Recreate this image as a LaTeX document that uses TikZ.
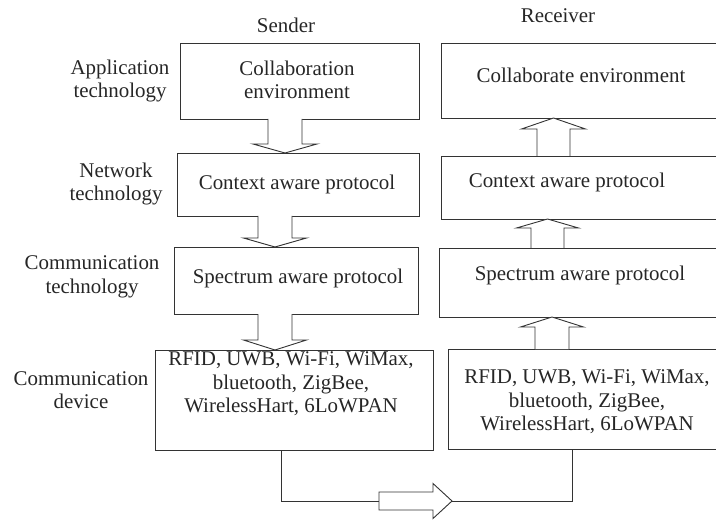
\documentclass[tikz,border=0pt]{standalone}
\usepackage{fontspec}
\setmainfont{Liberation Serif}
\usetikzlibrary{calc}

% hollow block arrow: from, to, centre (x), shaft half width, head half width, signed head length
\newcommand\blockarrow[6]{%
  \draw[blk] ($(#1 -| #3)+(-#4,0)$) -- ($(#2 -| #3)+(-#4,#6)$) -- ($(#2 -| #3)+(-#5,#6)$)
    -- (#2 -| #3) -- ($(#2 -| #3)+(#5,#6)$) -- ($(#2 -| #3)+(#4,#6)$) -- ($(#1 -| #3)+(#4,0)$);}

\begin{document}
\begin{tikzpicture}[x=1bp,y=-1bp,
  box/.style={draw=black!80, line width=0.9bp, inner sep=0pt, outer sep=0pt},
  txt/.style={text=black!85, align=center, inner sep=0pt, font=\fontsize{21}{23.5}\selectfont},
  blk/.style={draw=black!80, line width=0.9bp, fill=white, line join=miter},
  wire/.style={draw=black!80, line width=0.9bp}]
\useasboundingbox (0,0) rectangle (716,521);

% column headings
\node[txt] (hs) at (286,25) {Sender};
\node[txt] (hr) at (558,16) {Receiver};

% layer labels
\node[txt] (la) at (120,81) {Application\\technology};
\node[txt] (ln) at (116,184) {Network\\technology};
\node[txt] (lc) at (92,277) {Communication\\technology};
\node[txt] (ld) at (81,390) {Communication\\device};

% sender stack
\node[box, minimum width=239bp, minimum height=76bp] (s1) at (299.5,81) {};
\node[box, minimum width=242bp, minimum height=63bp] (s2) at (298,184.5) {};
\node[box, minimum width=244bp, minimum height=67bp] (s3) at (296,280.5) {};
\node[box, minimum width=278bp, minimum height=100bp] (s4) at (294,400) {};

% receiver stack
\node[box, minimum width=279bp, minimum height=75bp] (r1) at (580.5,80.5) {};
\node[box, minimum width=279bp, minimum height=63bp] (r2) at (580.5,187.5) {};
\node[box, minimum width=281bp, minimum height=69bp] (r3) at (579.5,282.5) {};
\node[box, minimum width=272bp, minimum height=100bp] (r4) at (584,399) {};

% box texts
\node[txt] (t1) at (297,80) {Collaboration\\environment};
\node[txt] (t2) at (297,184) {Context aware protocol};
\node[txt] (t3) at (298,278) {Spectrum aware protocol};
\node[txt] (t4) at (291,384) {RFID, UWB, Wi-Fi, WiMax,\\bluetooth, ZigBee,\\WirelessHart, 6LoWPAN};
\node[txt] (u1) at (581,75) {Collaborate environment};
\node[txt] (u2) at (567,182) {Context aware protocol};
\node[txt] (u3) at (580,275) {Spectrum aware protocol};
\node[txt] (u4) at (587,402) {RFID, UWB, Wi-Fi, WiMax,\\bluetooth, ZigBee,\\WirelessHart, 6LoWPAN};

% arrow axes
\coordinate (sa1) at (285,0);
\coordinate (sa2) at (275,0);
\coordinate (sa3) at (275,0);
\coordinate (ra1) at (553.5,0);
\coordinate (ra2) at (547.5,0);
\coordinate (ra3) at (552,0);

% sender: downward block arrows
\blockarrow{s1.south}{s2.north}{sa1}{17}{32}{-9}
\blockarrow{s2.south}{s3.north}{sa2}{17}{31.5}{-9}
\blockarrow{s3.south}{s4.north}{sa3}{17}{31.5}{-10}

% receiver: upward block arrows
\blockarrow{r2.north}{r1.south}{ra1}{16.5}{32}{11}
\blockarrow{r3.north}{r2.south}{ra2}{16.5}{31}{9}
\blockarrow{r4.north}{r3.south}{ra3}{17}{31.5}{10}

% transmission link along the bottom
\coordinate (bl) at (281,501);
\coordinate (bt) at (379,501);
\coordinate (bh) at (452,501);
\coordinate (br) at (572,501);
\draw[wire] (s4.south -| bl) |- (bt);
\draw[blk] ($(bt)+(0,-9)$) -- ($(bt)+(54,-9)$) -- ($(bt)+(54,-17.5)$) -- (bh)
  -- ($(bt)+(54,17.5)$) -- ($(bt)+(54,9)$) -- ($(bt)+(0,9)$) -- cycle;
\draw[wire] (bh) -| (r4.south -| br);
\end{tikzpicture}
\end{document}
